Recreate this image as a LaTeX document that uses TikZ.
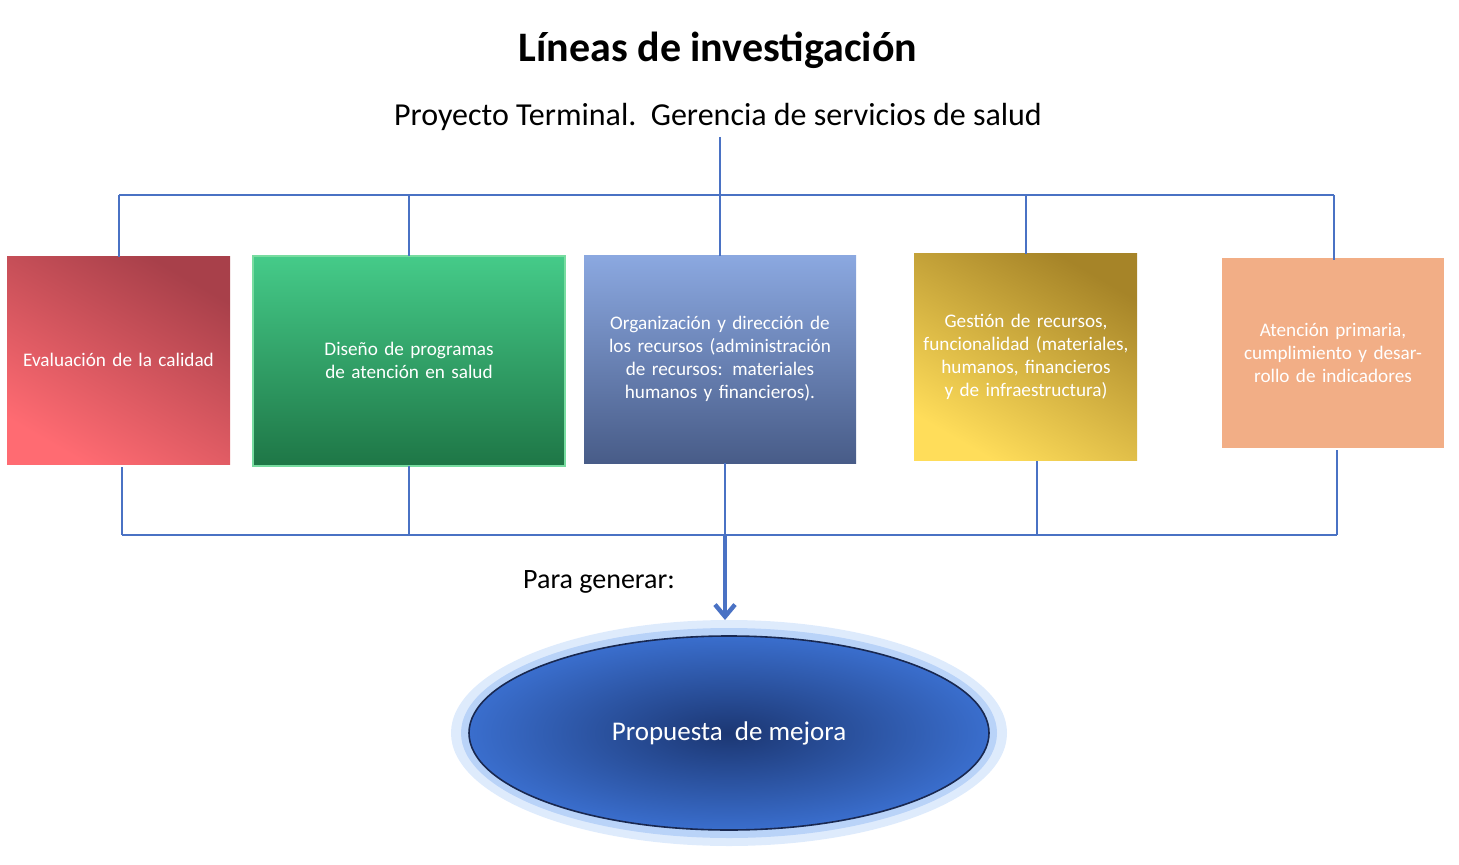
\documentclass[tikz,border=0pt]{standalone}
\usepackage{fontspec}
\setmainfont{Carlito}
\usetikzlibrary{arrows.meta}
\definecolor{ln}{HTML}{4A72C4}
\definecolor{r1}{RGB}{168,64,74}\definecolor{r2}{RGB}{255,107,114}
\definecolor{g1}{RGB}{69,203,137}\definecolor{g2}{RGB}{30,118,70}\definecolor{g3}{RGB}{120,220,160}
\definecolor{u1}{RGB}{139,168,224}\definecolor{u2}{RGB}{72,92,136}
\definecolor{y1}{RGB}{166,132,40}\definecolor{y2}{RGB}{255,221,90}
\definecolor{o1}{RGB}{242,174,134}
\definecolor{gl1}{RGB}{190,215,250}\definecolor{gl2}{RGB}{160,195,245}
\definecolor{e1}{RGB}{28,55,115}\definecolor{e2}{RGB}{58,110,205}\definecolor{e3}{RGB}{25,40,80}
\tikzset{
 conn/.style={draw=ln,line width=1.1pt},
 boxt/.style={text=white,font=\fontsize{9.6}{11.5}\selectfont,align=center,inner sep=0pt},
}
\begin{document}
\begin{tikzpicture}[x=0.5pt,y=-0.5pt]
\useasboundingbox (0,0) rectangle (1459,865);
\node[font=\bfseries\fontsize{21}{24}\selectfont,text=black] (title) at (718,50) {Líneas de investigación};
\node[font=\fontsize{16}{19}\selectfont] (sub) at (718,117) {Proyecto Terminal.\ \ Gerencia de servicios de salud};
% boxes
\path[left color=r1,right color=r2,shading angle=-30] (7,257) rectangle (230,464);
\node[boxt,text width=110pt] (b1) at (118.5,360) {Evaluación de la calidad};
\path[top color=g1,bottom color=g2,draw=g3,line width=0.6pt] (253,256) rectangle (565,466);
\node[boxt,text width=150pt] (b2) at (409,360) {Diseño de programas de atención en salud};
\path[top color=u1,bottom color=u2] (584,256) rectangle (856,463);
\node[boxt,text width=140pt] (b3) at (720,359) {Organización y dirección de los recursos (administración de recursos: materiales humanos y financieros).};
\path[left color=y1,right color=y2,shading angle=-30] (914,254) rectangle (1137,460);
\node[boxt,text width=108pt] (b4) at (1026,357) {Gestión de recursos, funcionalidad (materiales, humanos, financieros y de infraestructura)};
\fill[o1] (1222,258) rectangle (1444,448);
\node[boxt,text width=112pt] (b5) at (1333,353) {Atención primaria, cumplimiento y desarrollo de indicadores};
% top connectors
\coordinate (t0) at (720,137); \coordinate (tm) at (720,195);
\coordinate (tl) at (119,195); \coordinate (tr) at (1334,195);
\draw[conn] (t0) -- (tm);
\draw[conn] (tl) -- (tr);
\foreach \x/\y in {119/257,409/256,720/256,1026/254,1334/260}
  \draw[conn] (\x,195) -- (\x,\y);
% bottom connectors
\draw[conn] (122,535) -- (1337,535);
\foreach \x/\y in {122/467,409/466,725/463,1037/461,1337/450}
  \draw[conn] (\x,\y) -- (\x,535);
% ellipse
\fill[gl1,opacity=0.5] (729,733) ellipse [x radius=278,y radius=113];
\fill[gl2,opacity=0.6] (729,733) ellipse [x radius=268,y radius=105];
\shade[inner color=e1,outer color=e2,draw=e3,line width=0.8pt] (729,733) ellipse [x radius=260,y radius=97];
\node[text=white,font=\fontsize{13.5}{16}\selectfont] (et) at (729,733) {Propuesta\ \ de mejora};
\coordinate (a0) at (725,535); \coordinate (a1) at (725,620);
\draw[draw=ln,line width=2.2pt,-{Straight Barb[length=6pt,width=10pt]}] (a0) -- (a1);
\node[font=\fontsize{14}{17}\selectfont] (pg) at (599,582) {Para generar:};
\end{tikzpicture}
\end{document}
